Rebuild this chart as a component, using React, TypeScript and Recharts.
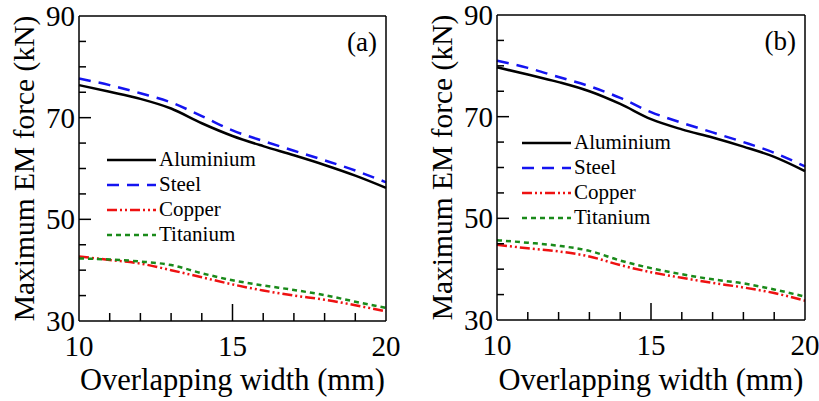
import { Label, Line, LineChart, XAxis, YAxis } from "recharts";

const widths = [10, 11, 12, 13, 14, 15, 16, 17, 18, 19, 20];
const xTicks = [10, 11, 12, 13, 14, 15, 16, 17, 18, 19, 20];
const xLabels = [10, 15, 20];
const yTicks = [30, 35, 40, 45, 50, 55, 60, 65, 70, 75, 80, 85, 90];
const yLabels = [30, 50, 70, 90];

// panel (a)
const aluminiumA = [76.4, 75.1, 73.7, 71.8, 68.9, 66.4, 64.4, 62.6, 60.7, 58.6, 56.2];
const steelA = [77.7, 76.4, 74.8, 73.0, 70.3, 67.5, 65.4, 63.5, 61.6, 59.6, 57.3];
const copperA = [42.7, 42.0, 41.3, 40.0, 38.6, 37.2, 36.0, 35.0, 34.2, 33.1, 31.9];
const titaniumA = [42.3, 42.1, 41.7, 41.0, 39.4, 38.0, 37.0, 36.1, 35.1, 33.8, 32.6];

// panel (b)
const aluminiumB = [79.7, 78.3, 76.8, 75.0, 72.5, 69.5, 67.5, 65.9, 64.1, 62.1, 59.3];
const steelB = [81.0, 79.6, 77.8, 76.0, 73.7, 70.9, 68.8, 66.9, 65.0, 62.9, 60.2];
const copperB = [44.8, 44.1, 43.5, 42.5, 40.8, 39.4, 38.3, 37.3, 36.4, 35.3, 33.8];
const titaniumB = [45.7, 45.2, 44.6, 43.6, 41.7, 40.2, 39.0, 38.0, 37.2, 36.0, 34.6];

const FONT = "'Liberation Serif', 'Times New Roman', serif";

const series = [
  { key: "aluminium", name: "Aluminium", color: "#000000", dash: undefined },
  { key: "steel", name: "Steel", color: "#1414f0", dash: "12 8" },
  { key: "copper", name: "Copper", color: "#ee1111", dash: "10 3 2 3 2 3" },
  { key: "titanium", name: "Titanium", color: "#1a8a1a", dash: "5 4" },
];

function buildRows(al: number[], st: number[], cu: number[], ti: number[]) {
  return widths.map((w, i) => ({
    width: w,
    aluminium: al[i],
    steel: st[i],
    copper: cu[i],
    titanium: ti[i],
  }));
}

const XTick = (props: any) => {
  const { x, y, payload } = props;
  const major = xLabels.includes(payload.value);
  const len = payload.value === 15 ? 17 : 8;
  return (
    <g>
      {payload.value !== 10 && payload.value !== 20 && (
        <line x1={x} x2={x} y1={y} y2={y - len} stroke="#000" strokeWidth={1.5} />
      )}
      {major && (
        <text x={x} y={y + 35} textAnchor="middle" fontFamily={FONT} fontSize={29} fill="#000">
          {payload.value}
        </text>
      )}
    </g>
  );
};

const YTick = (props: any) => {
  const { x, y, payload } = props;
  const major = yLabels.includes(payload.value);
  const len = major ? 12 : 7;
  return (
    <g>
      {payload.value !== 30 && payload.value !== 90 && (
        <line x1={x} x2={x + len} y1={y} y2={y} stroke="#000" strokeWidth={1.5} />
      )}
      {major && (
        <text x={x - 4} y={y + 10} textAnchor="end" fontFamily={FONT} fontSize={29} fill="#000">
          {payload.value}
        </text>
      )}
    </g>
  );
};

const LegendBox = ({ lineW }: { lineW: number }) => (
  <div style={{ fontFamily: FONT, fontSize: 21, color: "#000", lineHeight: "25px" }}>
    {series.map((s) => (
      <div key={s.key} style={{ display: "flex", alignItems: "center", height: 25 }}>
        <svg width={lineW} height={10} style={{ marginRight: 3 }}>
          <line x1={0} x2={lineW} y1={5} y2={5} stroke={s.color} strokeWidth={2.5} strokeDasharray={s.dash} />
        </svg>
        <span>{s.name}</span>
      </div>
    ))}
  </div>
);

interface PanelProps {
  rows: ReturnType<typeof buildRows>;
  tag: string;
  width: number;
  plot: { left: number; top: number; right: number; bottom: number };
  legendPos: { left: number; top: number };
  legendLine: number;
}

function Panel({ rows, tag, width, plot, legendPos, legendLine }: PanelProps) {
  const margin = {
    top: plot.top - 1,
    left: plot.left - 1,
    right: width - plot.right - 1,
    bottom: 401 - plot.bottom - 1,
  };
  const cx = (plot.left + plot.right) / 2;
  const cy = (plot.top + plot.bottom) / 2;
  const ly = plot.left - 55;
  return (
    <div style={{ position: "relative", width, height: 401 }}>
      <LineChart width={width} height={401} data={rows} margin={margin}>
        <XAxis
          dataKey="width"
          type="number"
          domain={[10, 20]}
          ticks={xTicks}
          height={1}
          tickSize={0}
          tickMargin={0}
          tick={<XTick />}
          axisLine={{ stroke: "#000", strokeWidth: 1.5 }}
          tickLine={false}
          interval={0}
        >
          <Label
            content={() => (
              <text x={cx} y={390} textAnchor="middle" fontFamily={FONT} fontSize={30.5} fill="#000">
                Overlapping width (mm)
              </text>
            )}
          />
        </XAxis>
        <XAxis
          xAxisId="top"
          dataKey="width"
          type="number"
          domain={[10, 20]}
          orientation="top"
          height={1}
          tick={false}
          tickLine={false}
          axisLine={{ stroke: "#000", strokeWidth: 1.5 }}
        />
        <YAxis
          type="number"
          domain={[30, 90]}
          ticks={yTicks}
          width={1}
          tickSize={0}
          tickMargin={0}
          tick={<YTick />}
          axisLine={{ stroke: "#000", strokeWidth: 1.5 }}
          tickLine={false}
          interval={0}
        >
          <Label
            content={() => (
              <text
                x={ly}
                y={cy}
                transform={`rotate(-90, ${ly}, ${cy})`}
                textAnchor="middle"
                dominantBaseline="central"
                fontFamily={FONT}
                fontSize={29.5}
                fill="#000"
              >
                Maximum EM force (kN)
              </text>
            )}
          />
        </YAxis>
        <YAxis
          yAxisId="right"
          orientation="right"
          domain={[30, 90]}
          width={1}
          tick={false}
          tickLine={false}
          axisLine={{ stroke: "#000", strokeWidth: 1.5 }}
        >
          <Label
            content={() => (
              <text
                x={plot.right - 9}
                y={plot.top + 35}
                textAnchor="end"
                fontFamily={FONT}
                fontSize={27}
                fill="#000"
              >
                {tag}
              </text>
            )}
          />
        </YAxis>
        {series.map((s) => (
          <Line
            key={s.key}
            type="monotone"
            dataKey={s.key}
            name={s.name}
            stroke={s.color}
            strokeWidth={2.5}
            strokeDasharray={s.dash}
            dot={false}
            activeDot={false}
            isAnimationActive={false}
          />
        ))}
      </LineChart>
      <div style={{ position: "absolute", left: legendPos.left, top: legendPos.top }}>
        <LegendBox lineW={legendLine} />
      </div>
    </div>
  );
}

export default function App() {
  const rowsA = buildRows(aluminiumA, steelA, copperA, titaniumA);
  const rowsB = buildRows(aluminiumB, steelB, copperB, titaniumB);
  return (
    <div style={{ position: "absolute", left: 0, top: 0, width: 819, height: 401, background: "#fff" }}>
      <div style={{ position: "absolute", left: 0, top: 0 }}>
        <Panel
          rows={rowsA}
          tag="(a)"
          width={410}
          plot={{ left: 79, top: 16, right: 386, bottom: 321 }}
          legendPos={{ left: 107, top: 147 }}
          legendLine={49}
        />
      </div>
      <div style={{ position: "absolute", left: 410, top: 0 }}>
        <Panel
          rows={rowsB}
          tag="(b)"
          width={409}
          plot={{ left: 87, top: 15, right: 395, bottom: 320 }}
          legendPos={{ left: 112, top: 130 }}
          legendLine={49}
        />
      </div>
    </div>
  );
}
